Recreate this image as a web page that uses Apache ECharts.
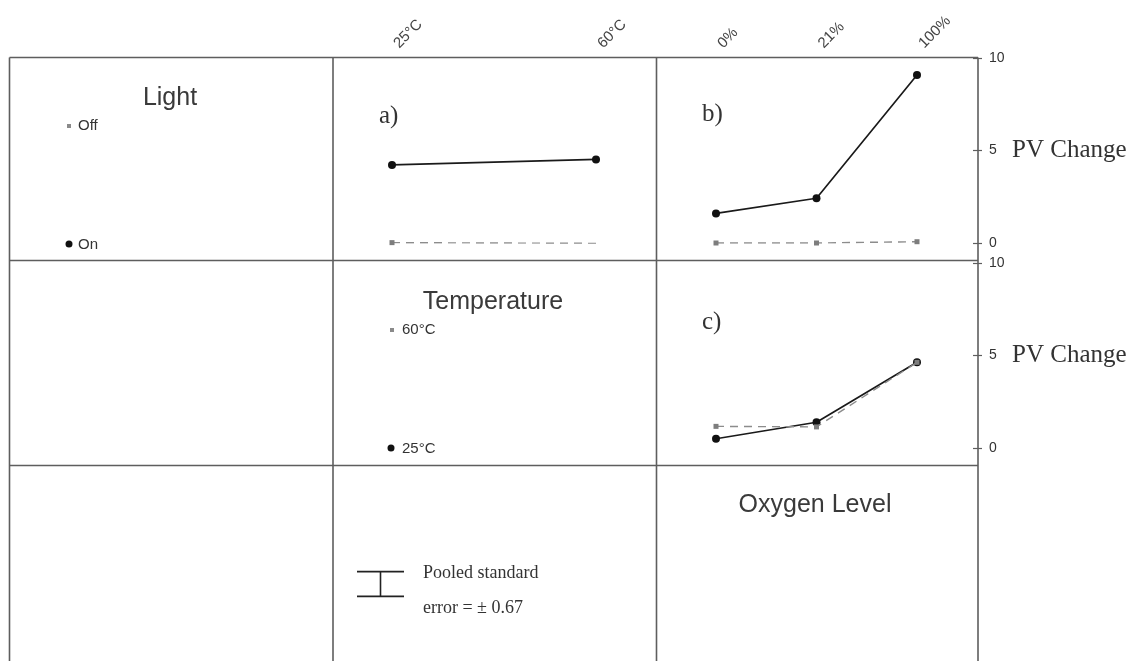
<!DOCTYPE html>
<html>
<head>
<meta charset="utf-8">
<script src="https://cdn.jsdelivr.net/npm/echarts@6/dist/echarts.min.js"></script>
<style>
  html, body { margin: 0; padding: 0; background: #fff; }
  #chart { width: 1131px; height: 661px; }
</style>
</head>
<body>
<div id="chart"></div>
<script>
// Categories
const temperatures = ['25°C', '60°C'];
const oxygenLevels = ['0%', '21%', '100%'];

// PV change, panel a (temperature x light)
const tempLightOn = [4.22, 4.52];
const tempLightOff = [0.02, -0.02];

// PV change, panel b (oxygen x light)
const oxyLightOn = [1.6, 2.42, 9.08];
const oxyLightOff = [0.0, 0.0, 0.07];

// PV change, panel c (oxygen x temperature)
const oxyTemp25 = [0.5, 1.39, 4.63];
const oxyTemp60 = [1.17, 1.14, 4.63];

// PV change axis range and step
const pvMin = 0;
const pvMax = 10;
const pvStep = 5;

// Pooled standard error
const pooledSE = 0.67;

const chart = echarts.init(document.getElementById('chart'), null, { renderer: 'canvas' });

const FRAME = '#5e5e5e';
const SANS = 'Liberation Sans, Arial, sans-serif';
const SERIF = 'Liberation Serif, Times New Roman, serif';

const onStyle = {
  type: 'line',
  symbol: 'circle',
  symbolSize: 8,
  itemStyle: { color: '#111' },
  lineStyle: { color: '#1a1a1a', width: 1.7 },
  z: 3
};
const offStyle = {
  type: 'line',
  symbol: 'rect',
  symbolSize: 5,
  itemStyle: { color: '#7d7d7d' },
  lineStyle: { color: '#8c8c8c', width: 1.4, type: [8, 6] },
  z: 4
};

function pvAxis(gridIndex, showLabels) {
  return {
    type: 'value',
    gridIndex: gridIndex,
    min: pvMin, max: pvMax, interval: pvStep,
    position: 'right',
    show: showLabels,
    offset: 56,
    axisLine: { show: false },
    axisTick: { show: true, length: 9, lineStyle: { color: FRAME, width: 1.2 } },
    axisLabel: { margin: 16, color: '#333', fontFamily: SANS, fontSize: 14 },
    splitLine: { show: false },
    name: 'PV Change',
    nameLocation: 'middle',
    nameRotate: 0,
    nameGap: 39,
    nameTextStyle: { fontFamily: SERIF, fontSize: 25, color: '#333', align: 'left' }
  };
}

function catAxis(gridIndex, data, showLabels) {
  return {
    type: 'category',
    gridIndex: gridIndex,
    data: data,
    position: 'top',
    boundaryGap: false,
    axisLine: { show: false },
    axisTick: { show: false },
    splitLine: { show: false },
    axisLabel: {
      show: showLabels,
      interval: 0,
      rotate: 45,
      margin: 8,
      padding: [0, 0, 0, 6],
      color: '#444',
      fontFamily: SANS,
      fontSize: 15
    }
  };
}

// Frame lines of the 3x3 panel layout
const xs = [9.5, 333, 656.5, 978];
const ys = [57.5, 260.5, 465.5];
const frame = [];
xs.forEach(function (x) {
  frame.push({ type: 'line', shape: { x1: x, y1: 57.5, x2: x, y2: 661 },
    style: { stroke: FRAME, lineWidth: 1.6 }, silent: true, z: 1 });
});
ys.forEach(function (y) {
  frame.push({ type: 'line', shape: { x1: 9.5, y1: y, x2: 978, y2: y },
    style: { stroke: FRAME, lineWidth: 1.6 }, silent: true, z: 1 });
});

function txt(x, y, text, font, size, align, color) {
  return { type: 'text', x: x, y: y, silent: true, z: 5,
    style: { text: text, fontFamily: font, fontSize: size, fill: color || '#333',
      align: align || 'left', verticalAlign: 'middle' } };
}

const labels = [
  // Light legend
  txt(170, 98, 'Light', SANS, 25, 'center', '#3a3a3a'),
  { type: 'rect', shape: { x: 67, y: 124, width: 4, height: 4 }, style: { fill: '#8a8a8a' }, silent: true },
  txt(78, 126, 'Off', SANS, 15),
  { type: 'circle', shape: { cx: 69, cy: 244, r: 3.5 }, style: { fill: '#111' }, silent: true },
  txt(78, 245, 'On', SANS, 15),
  // Temperature legend
  txt(493, 302, 'Temperature', SANS, 25, 'center', '#3a3a3a'),
  { type: 'rect', shape: { x: 390, y: 328, width: 4, height: 4 }, style: { fill: '#8a8a8a' }, silent: true },
  txt(402, 330, '60°C', SANS, 15),
  { type: 'circle', shape: { cx: 391, cy: 448, r: 3.5 }, style: { fill: '#111' }, silent: true },
  txt(402, 449, '25°C', SANS, 15),
  // Oxygen level heading
  txt(815, 505, 'Oxygen Level', SANS, 25, 'center', '#3a3a3a'),
  // Panel letters
  txt(379, 116, 'a)', SERIF, 25),
  txt(702, 114, 'b)', SERIF, 25),
  txt(702, 322, 'c)', SERIF, 25),
  // Pooled standard error note
  txt(423, 573, 'Pooled standard', SERIF, 18),
  txt(423, 608, 'error = ± ' + pooledSE.toFixed(2), SERIF, 18)
];

const option = {
  animation: false,
  backgroundColor: '#fff',
  grid: [
    { left: 392, width: 204, top: 58, height: 185, containLabel: false, outerBoundsMode: 'none' },
    { left: 716, width: 201, top: 58, height: 185, containLabel: false, outerBoundsMode: 'none' },
    { left: 716, width: 201, top: 263, height: 185, containLabel: false, outerBoundsMode: 'none' },
    // error bar key cell, same PV scale
    { left: 357, width: 47, top: 491.5, height: 185, containLabel: false, outerBoundsMode: 'none' }
  ],
  xAxis: [
    catAxis(0, temperatures, true),
    catAxis(1, oxygenLevels, true),
    catAxis(2, oxygenLevels, false),
    { type: 'value', gridIndex: 3, min: 0, max: 1, show: false }
  ],
  yAxis: [
    Object.assign(pvAxis(0, false), { show: false }),
    pvAxis(1, true),
    pvAxis(2, true),
    { type: 'value', gridIndex: 3, min: -5, max: 5, show: false }
  ],
  series: [
    Object.assign({ name: 'On', xAxisIndex: 0, yAxisIndex: 0, data: tempLightOn }, onStyle),
    Object.assign({ name: 'Off', xAxisIndex: 0, yAxisIndex: 0, data: tempLightOff }, offStyle),
    Object.assign({ name: 'On', xAxisIndex: 1, yAxisIndex: 1, data: oxyLightOn }, onStyle),
    Object.assign({ name: 'Off', xAxisIndex: 1, yAxisIndex: 1, data: oxyLightOff }, offStyle),
    Object.assign({ name: '25°C', xAxisIndex: 2, yAxisIndex: 2, data: oxyTemp25 }, onStyle),
    Object.assign({ name: '60°C', xAxisIndex: 2, yAxisIndex: 2, data: oxyTemp60 }, offStyle),
    {
      name: 'Pooled SE',
      type: 'custom',
      xAxisIndex: 3,
      yAxisIndex: 3,
      data: [[0.5, pooledSE]],
      renderItem: function (params, api) {
        const se = api.value(1);
        const mid = api.coord([api.value(0), 0]);
        const top = api.coord([api.value(0), se]);
        const bot = api.coord([api.value(0), -se]);
        const l = api.coord([0, 0])[0];
        const r = api.coord([1, 0])[0];
        const st = { stroke: '#222', lineWidth: 1.6 };
        return {
          type: 'group',
          children: [
            { type: 'line', shape: { x1: l, y1: top[1], x2: r, y2: top[1] }, style: st },
            { type: 'line', shape: { x1: l, y1: bot[1], x2: r, y2: bot[1] }, style: st },
            { type: 'line', shape: { x1: mid[0], y1: top[1], x2: mid[0], y2: bot[1] }, style: st }
          ]
        };
      }
    }
  ],
  graphic: frame.concat(labels)
};

chart.setOption(option);
</script>
</body>
</html>
